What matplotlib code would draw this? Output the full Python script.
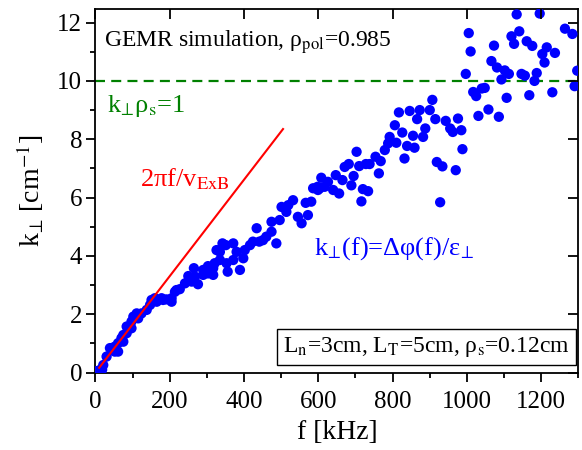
import matplotlib
matplotlib.use("Agg")
import numpy as np
import matplotlib.pyplot as plt
from matplotlib.ticker import MultipleLocator
from matplotlib.lines import TICKDOWN, TICKLEFT

plt.rcParams['font.family'] = ['Liberation Serif', 'DejaVu Serif']
plt.rcParams['mathtext.fontset'] = 'stix'

# measured k_perp(f) = dphi(f)/eps_perp from the GEMR run
freq_khz = [3, 10, 18, 12, 21, 30, 39, 52, 52, 61, 61, 70, 75, 75, 84, 84, 97, 97,
            102, 111, 115, 124, 138, 147, 151, 160, 165, 178, 182, 191, 205, 205,
            214, 218, 227, 241, 250, 259, 265, 268, 276, 290, 290, 303, 303, 317,
            317, 321, 326, 335, 335, 342, 351, 353, 356, 371, 371, 380, 389, 398,
            402, 416, 424, 434, 441, 451, 460, 474, 474, 487, 496, 501, 514, 519,
            532, 545, 555, 566, 572, 581, 586, 598, 599, 604, 608, 617, 626, 640,
            647, 656, 665, 671, 682, 689, 695, 703, 710, 716, 720, 728, 734, 738,
            754, 763, 768, 779, 788, 792, 806, 810, 817, 826, 832, 839, 846, 855,
            859, 866, 873, 882, 888, 900, 907, 915, 919, 928, 934, 943, 955, 962,
            970, 976, 985, 988, 997, 1005, 1010, 1017, 1025, 1031, 1040, 1048,
            1058, 1066, 1073, 1081, 1086, 1093, 1102, 1107, 1113, 1120, 1127,
            1134, 1141, 1147, 1156, 1161, 1168, 1176, 1182, 1188, 1196, 1203,
            1209, 1215, 1230, 1237, 1264, 1284, 1297, 1290]
k_perp = [0.05, 0.03, 0.10, 0.09, 0.26, 0.55, 0.84, 0.72, 0.89, 1.01, 0.72, 1.18,
          1.06, 1.29, 1.35, 1.58, 1.52, 1.75, 1.92, 2.03, 1.86, 2.03, 2.15, 2.32,
          2.49, 2.55, 2.43, 2.55, 2.49, 2.51, 2.55, 2.43, 2.77, 2.83, 2.86, 3.06,
          3.31, 3.12, 3.58, 3.29, 3.03, 3.52, 3.35, 3.65, 3.40, 3.58, 3.35, 3.75,
          4.20, 4.14, 3.86, 4.43, 4.37, 3.75, 3.46, 4.43, 3.86, 4.14, 3.52, 3.92,
          4.20, 4.37, 4.49, 4.95, 4.49, 4.54, 4.66, 4.83, 5.17, 4.43, 5.23, 5.68,
          5.51, 5.74, 5.91, 5.34, 5.12, 5.82, 5.40, 5.86, 6.32, 6.37, 6.26, 6.32,
          6.68, 6.37, 6.54, 6.26, 6.77, 6.14, 6.60, 7.05, 7.15, 6.42, 6.74, 7.57,
          7.08, 5.87, 6.29, 7.15, 6.22, 7.15, 7.40, 6.83, 7.25, 7.63, 7.86, 8.08,
          8.48, 7.88, 8.92, 8.23, 7.34, 7.77, 8.97, 8.12, 7.71, 8.69, 9.00, 8.08,
          8.37, 9.00, 9.35, 8.69, 7.22, 5.84, 7.07, 8.63, 8.37, 8.25, 6.94, 8.71,
          8.31, 7.66, 10.24, 11.64, 11.01, 9.62, 9.48, 8.80, 9.74, 9.76, 9.02,
          10.68, 11.21, 10.46, 8.77, 10.05, 10.36, 9.42, 10.24, 11.53, 11.27,
          12.28, 11.70, 10.24, 10.18, 11.36, 9.51, 11.20, 10.00, 10.27, 12.31,
          10.92, 10.63, 11.15, 9.61, 10.96, 11.79, 11.61, 10.35, 9.82]

# ExB estimate: k = 2*pi*f / v_ExB
v_exb = 3.8e5          # cm/s
f_line = np.array([10, 505])
k_rho_line = 10        # cm^-1

fig = plt.figure(figsize=(5.82, 4.5), dpi=100)
ax = fig.add_axes([0.164, 0.172, 0.8297, 0.807])

ax.scatter(freq_khz, k_perp, s=55, color='#0000ff', edgecolors='none', zorder=3)
ax.plot(f_line, 2 * np.pi * f_line * 1e3 / v_exb, color='#ff0000', lw=1.5, zorder=4)
ax.axhline(k_rho_line, color='#008000', lw=1.6, dashes=(4.5, 2.8), zorder=2)

ax.set_xlim(0, 1300)
ax.set_ylim(0, 12.45)

ax.xaxis.set_major_locator(MultipleLocator(200))
ax.xaxis.set_minor_locator(MultipleLocator(100))
ax.yaxis.set_major_locator(MultipleLocator(2))
ax.yaxis.set_minor_locator(MultipleLocator(1))
ax.tick_params(which='major', direction='out', length=6.5, width=1.3, labelsize=18)
ax.tick_params(axis='x', which='major', pad=7)
ax.tick_params(axis='y', which='major', pad=3)
ax.tick_params(which='minor', direction='out', length=3.5, width=1.3)
for sp in ax.spines.values():
    sp.set_linewidth(1.3)

# mirrored major ticks pointing inward on top and right
xt = [t for t in ax.get_xticks() if 0 <= t <= 1300]
yt = [t for t in ax.get_yticks() if 0 <= t <= 12.45]
ax.plot(xt, [1] * len(xt), ls='none', marker=TICKDOWN, ms=7.5, mew=1.3, color='black',
        transform=ax.get_xaxis_transform(), clip_on=False, zorder=7)
ax.plot([1] * len(yt), yt, ls='none', marker=TICKLEFT, ms=7.5, mew=1.3, color='black',
        transform=ax.get_yaxis_transform(), clip_on=False, zorder=7)

ax.set_xlabel('f [kHz]', fontsize=20, labelpad=5)
ax.set_ylabel(r'k$_{⊥}$ [cm$^{-1}$]', fontsize=20, labelpad=8)

ax.text(23, 11.16, r'GEMR simulation, ρ$_{\mathrm{pol}}$=0.985', fontsize=17,
        va='baseline', ha='left', zorder=6)
ax.text(31, 8.94, r'k$_{⊥}$ρ$_{\mathrm{s}}$=1', fontsize=19, color='#008000',
        va='baseline', ha='left', zorder=6)
ax.text(120, 6.37, r'2πf/v$_{\mathrm{ExB}}$', fontsize=19, color='#ff0000',
        va='baseline', ha='left', zorder=6)
ax.text(588, 4.03, r'k$_{⊥}$(f)=Δφ(f)/ε$_{⊥}$', fontsize=19, color='#0000ff',
        va='baseline', ha='left', zorder=6)
ax.text(505, 0.72, r'L$_{\mathrm{n}}$=3cm, L$_{\mathrm{T}}$=5cm, ρ$_{\mathrm{s}}$=0.12cm',
        fontsize=17, va='baseline', ha='left',
        bbox=dict(boxstyle='square,pad=0.25', fc='white', ec='black', lw=1.0), zorder=6)

fig.savefig('out.png', dpi=100)
